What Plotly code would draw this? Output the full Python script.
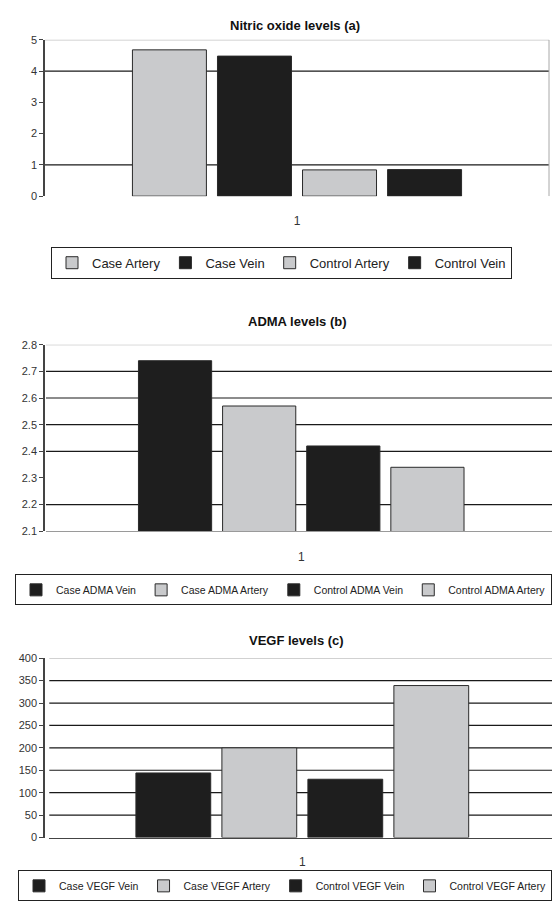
import plotly.graph_objects as go

# ---------------- data ----------------
category = ["1"]

no_names = ["Case Artery", "Case Vein", "Control Artery", "Control Vein"]
no_values = [4.68, 4.48, 0.84, 0.85]
no_kinds = ["artery", "vein", "artery", "vein"]

adma_names = ["Case ADMA Vein", "Case ADMA Artery", "Control ADMA Vein", "Control ADMA Artery"]
adma_values = [2.74, 2.57, 2.42, 2.34]
adma_kinds = ["vein", "artery", "vein", "artery"]

vegf_names = ["Case VEGF Vein", "Case VEGF Artery", "Control VEGF Vein", "Control VEGF Artery"]
vegf_values = [144, 200, 130, 339]
vegf_kinds = ["vein", "artery", "vein", "artery"]

titles = ["Nitric oxide levels (a)", "ADMA levels (b)", "VEGF levels (c)"]

grid_a = [1, 4]
grid_b = [2.2, 2.4, 2.5, 2.6, 2.7]
grid_c = [50, 100, 150, 200, 250, 300, 350]

# ---------------- style ----------------
W, H = 552, 903
FONT = "Liberation Sans, Arial, sans-serif"
COL = {"artery": "#c9cacc", "vein": "#1e1e1e"}
OUTLINE = "#2a2a2a"

def py(px):  # pixel from top -> paper fraction
    return 1 - px / H

def pxx(px):
    return px / W

fig = go.Figure()

panels = [
    dict(names=no_names, vals=no_values, kinds=no_kinds, xa="x", ya="y", leg="legend"),
    dict(names=adma_names, vals=adma_values, kinds=adma_kinds, xa="x2", ya="y2", leg="legend2"),
    dict(names=vegf_names, vals=vegf_values, kinds=vegf_kinds, xa="x3", ya="y3", leg="legend3"),
]

for p in panels:
    for name, val, kind in zip(p["names"], p["vals"], p["kinds"]):
        fig.add_trace(go.Bar(
            x=category, y=[val], name=name,
            marker=dict(color=COL[kind], line=dict(color=OUTLINE, width=1)),
            xaxis=p["xa"], yaxis=p["ya"], legend=p["leg"],
            hoverinfo="name+y",
        ))

tickfont = dict(family=FONT, size=11, color="#333333")
xlabfont = dict(family=FONT, size=12, color="#333333")

def yax(domain, rng, dtick, tickvals=None):
    d = dict(domain=domain, range=rng, showgrid=False, zeroline=False,
             showline=True, linecolor="#444444", linewidth=1.5,
             ticks="outside", ticklen=4, tickcolor="#444444",
             tickfont=tickfont, fixedrange=True)
    if tickvals is not None:
        d.update(tickmode="array", tickvals=tickvals, ticktext=[f"{v:g}" for v in tickvals])
    else:
        d.update(dtick=dtick, tick0=rng[0])
    return d

def xax(domain, rng, anchor, linecolor, standoff, showline=True):
    return dict(domain=domain, range=rng, type="category", anchor=anchor,
                showgrid=False, zeroline=False, showline=showline,
                linecolor=linecolor, linewidth=1.2, ticks="",
                tickfont=xlabfont, ticklabelstandoff=standoff, fixedrange=True)

fig.update_layout(
    width=W, height=H,
    margin=dict(l=0, r=0, t=0, b=0),
    paper_bgcolor="white", plot_bgcolor="white",
    barmode="group", bargap=0.325, bargroupgap=0.13,
    font=dict(family=FONT, color="#222222"),
    xaxis=xax([pxx(45), pxx(549)], [-0.5, 0.5], "y", "#dddddd", 16, showline=False),
    yaxis=yax([py(192.7), py(34.3)], [0, 5], 1),
    xaxis2=xax([pxx(46), 1], [-0.512, 0.503], "y2", "#9a9a9a", 14),
    yaxis2=yax([py(532.3), py(343.3)], [2.1, 2.8], None,
               tickvals=[2.1, 2.2, 2.3, 2.4, 2.5, 2.6, 2.7, 2.8]),
    xaxis3=xax([pxx(49.3), 1], [-0.4965, 0.49], "y3", "#444444", 13),
    yaxis3=yax([py(842.7), py(661)], [0, 400], 50),
    legend=dict(orientation="h", x=pxx(51), xanchor="left", y=py(244), yanchor="top",
                bordercolor="#222222", borderwidth=1, bgcolor="white",
                font=dict(family=FONT, size=13, color="#222222"),
                itemwidth=30, traceorder="normal", itemclick=False),
    legend2=dict(orientation="h", x=pxx(25), xanchor="left", y=py(576), yanchor="top",
                 bordercolor="#222222", borderwidth=1, bgcolor="white",
                 font=dict(family=FONT, size=10.5, color="#222222"),
                 itemwidth=30, traceorder="normal", itemclick=False),
    legend3=dict(orientation="h", x=pxx(25), xanchor="left", y=py(876), yanchor="top",
                 bordercolor="#222222", borderwidth=1, bgcolor="white",
                 font=dict(family=FONT, size=10.5, color="#222222"),
                 itemwidth=30, traceorder="normal", itemclick=False),
    showlegend=True,
)

# titles
title_pos = [(295, 20), (297, 320), (297, 643)]
for t, (tx, ty) in zip(titles, title_pos):
    fig.add_annotation(text=f"<b>{t}</b>", x=pxx(tx), y=py(ty), xref="paper", yref="paper",
                       showarrow=False, xanchor="center", yanchor="middle",
                       font=dict(family=FONT, size=13, color="#111111"))

# gridlines (below bars)
shapes = []
for vals, xr, yr in [(grid_a, "x domain", "y"), (grid_b, "x2 domain", "y2"), (grid_c, "x3 domain", "y3")]:
    for v in vals:
        shapes.append(dict(type="line", xref=xr, yref=yr, x0=0, x1=1, y0=v, y1=v,
                           line=dict(color="#1a1a1a", width=1.2), layer="below"))
# light top borders
for xr, yr, top in [("x domain", "y", 5), ("x2 domain", "y2", 2.8), ("x3 domain", "y3", 400)]:
    shapes.append(dict(type="line", xref=xr, yref=yr, x0=0, x1=1, y0=top, y1=top,
                       line=dict(color="#a8a8a8", width=1), layer="below"))
# right border of panel (a)
shapes.append(dict(type="line", xref="x domain", yref="y", x0=1, x1=1, y0=0, y1=5,
                   line=dict(color="#a8a8a8", width=1), layer="below"))
fig.update_layout(shapes=shapes)

fig.write_html("out.html",
               config={"displayModeBar": False},
               post_script="document.body.style.margin='0';document.body.style.overflow='hidden';")
